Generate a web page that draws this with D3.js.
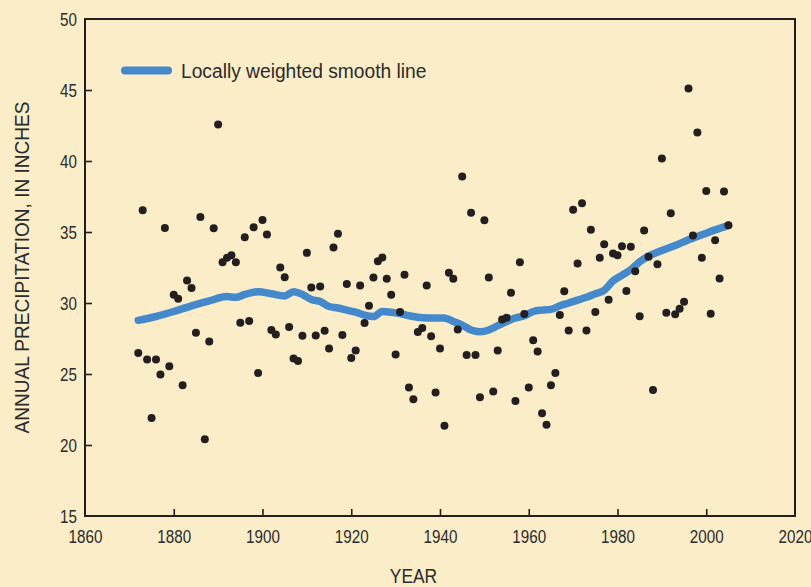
<!DOCTYPE html>
<html>
<head>
<meta charset="utf-8">
<script src="https://cdn.jsdelivr.net/npm/d3@7"></script>
<style>
  html, body { margin: 0; padding: 0; background: #fbedc8; }
  svg { display: block; }
  text { font-family: "Liberation Sans", Arial, sans-serif; fill: #2b2b2b; }
</style>
</head>
<body>
<svg id="chart" width="811" height="587"></svg>
<script>
// ---- data ----
const firstYear = 1872;
const precip = [
  26.48, 36.53, 26.02, 21.91, 26.02, 24.96, 35.29, 25.54, 30.58, 30.30, // 1872-1881
  24.21, 31.59, 31.05, 27.91, 36.06, 20.41, 27.28, 35.26, 42.57, 32.87, // 1882-1891
  33.18, 33.37, 32.87, 28.61, 34.63, 28.73, 35.33, 25.07, 35.85, 34.82, // 1892-1901
  28.10, 27.79, 32.50, 31.82, 28.31, 26.09, 25.92, 27.70, 33.53, 31.10, // 1902-1911
  27.72, 31.17, 28.05, 26.79, 33.91, 34.87, 27.74, 31.33, 26.13, 26.65, // 1912-1921
  31.24, 28.59, 29.81, 31.80, 32.94, 33.20, 31.71, 30.58, 26.37, 29.36, // 1922-1931
  31.99, 24.05, 23.23, 27.96, 28.24, 31.24, 27.65, 23.70, 26.79, 21.35, // 1932-1941
  32.13, 31.71, 28.14, 38.90, 26.34, 36.35, 26.34, 23.37, 35.83, 31.80, // 1942-1951
  23.77, 26.65, 28.83, 28.97, 30.72, 23.09, 32.87, 29.22, 24.05, 27.37, // 1952-1961
  26.58, 22.24, 21.42, 24.21, 25.07, 29.15, 30.82, 28.07, 36.56, 32.78, // 1962-1971
  37.02, 28.07, 35.15, 29.36, 33.18, 34.14, 30.23, 33.49, 33.37, 34.00, // 1972-1981
  30.84, 33.96, 32.24, 29.06, 35.10, 33.25, 23.88, 32.73, 40.18, 29.32, // 1982-1991
  36.32, 29.20, 29.60, 30.09, 45.10, 34.75, 42.01, 33.18, 37.89, 29.25, // 1992-2001
  34.42, 31.73, 37.86, 35.47                                              // 2002-2005
];
const years = precip.map((_, i) => firstYear + i);

const smoothYears = [1872,1876,1880,1884,1888,1892,1894,1896,1899,1902,1905,1907,1909,1911,1913,1915,1917,1919,1921,1923,1925,1927,1929,1931,1933,1935,1937,1939,1941,1943,1945,1947,1949,1951,1953,1955,1957,1959,1961,1963,1965,1967,1969,1971,1973,1975,1977,1979,1981,1983,1985,1987,1990,1993,1996,1999,2002,2005];
const smoothValues = [28.78,29.05,29.4,29.8,30.15,30.45,30.4,30.6,30.8,30.65,30.5,30.8,30.6,30.25,30.1,29.75,29.65,29.5,29.35,29.15,29.05,29.4,29.35,29.25,29.1,29.0,28.95,28.95,28.95,28.7,28.45,28.1,27.98,28.1,28.4,28.7,28.95,29.1,29.4,29.5,29.55,29.8,30.0,30.2,30.4,30.65,30.9,31.55,31.95,32.35,32.9,33.3,33.7,34.05,34.45,34.8,35.15,35.47];

const xTicks = [1860,1880,1900,1920,1940,1960,1980,2000,2020];
const yTicks = [15,20,25,30,35,40,45,50];
const legendLabel = "Locally weighted smooth line";
const xTitle = "YEAR";
const yTitle = "ANNUAL PRECIPITATION, IN INCHES";

// ---- layout ----
const svg = d3.select("#chart");
const M = { left: 85, right: 795, top: 19, bottom: 516 };
const x = d3.scaleLinear().domain([1860, 2020]).range([M.left, M.right]);
const y = d3.scaleLinear().domain([15, 50]).range([M.bottom, M.top]);

const ink = "#231f20";
const blue = "#4389cb";
const tickSX = 0.8;

// frame
svg.append("rect")
  .attr("x", M.left).attr("y", M.top)
  .attr("width", M.right - M.left).attr("height", M.bottom - M.top)
  .attr("fill", "none").attr("stroke", ink).attr("stroke-width", 2);

// axes (ticks inward)
const xAxis = svg.append("g").attr("transform", `translate(0,${M.bottom})`)
  .call(d3.axisBottom(x).tickValues(xTicks).tickFormat(d3.format("d")).tickSizeInner(-7).tickSizeOuter(0).tickPadding(14));
const yAxis = svg.append("g").attr("transform", `translate(${M.left},0)`)
  .call(d3.axisLeft(y).tickValues(yTicks).tickSizeInner(-7).tickSizeOuter(0).tickPadding(8));
[xAxis, yAxis].forEach(g => {
  g.select(".domain").remove();
  g.selectAll(".tick line").attr("stroke", ink).attr("stroke-width", 1.6);
  g.selectAll(".tick text")
    .attr("font-size", 19).attr("fill", "#2b2b2b")
    .style("font-family", '"Liberation Sans", Arial, sans-serif')
    .each(function() {
      const t = d3.select(this);
      const x0 = +t.attr("x") || 0;
      t.attr("x", x0 / tickSX).attr("transform", `scale(${tickSX},1)`);
    });
});
xAxis.selectAll(".tick").filter(d => d === 1860 || d === 2020).select("line").remove();
yAxis.selectAll(".tick").filter(d => d === 15 || d === 50).select("line").remove();

// smooth line
svg.append("path")
  .datum(smoothYears.map((yr, i) => [yr, smoothValues[i]]))
  .attr("fill", "none")
  .attr("stroke", blue)
  .attr("stroke-width", 7.5)
  .attr("stroke-linecap", "round")
  .attr("stroke-linejoin", "round")
  .attr("d", d3.line().x(d => x(d[0])).y(d => y(d[1])).curve(d3.curveMonotoneX));

// points
svg.append("g").selectAll("circle")
  .data(years.map((yr, i) => [yr, precip[i]]))
  .join("circle")
  .attr("cx", d => x(d[0]))
  .attr("cy", d => y(d[1]))
  .attr("r", 4)
  .attr("fill", ink);

// legend
svg.append("line")
  .attr("x1", 125).attr("x2", 168).attr("y1", 70.5).attr("y2", 70.5)
  .attr("stroke", blue).attr("stroke-width", 8).attr("stroke-linecap", "round");
svg.append("text")
  .attr("transform", "translate(181,77.5) scale(0.915,1)")
  .attr("font-size", 21)
  .text(legendLabel);

// titles
svg.append("text")
  .attr("transform", "translate(413.5,583) scale(0.87,1)")
  .attr("text-anchor", "middle").attr("font-size", 20)
  .text(xTitle);
svg.append("text")
  .attr("transform", `translate(28.5,267.5) rotate(-90) scale(0.93,1)`)
  .attr("text-anchor", "middle").attr("font-size", 20.5)
  .text(yTitle);
</script>
</body>
</html>
